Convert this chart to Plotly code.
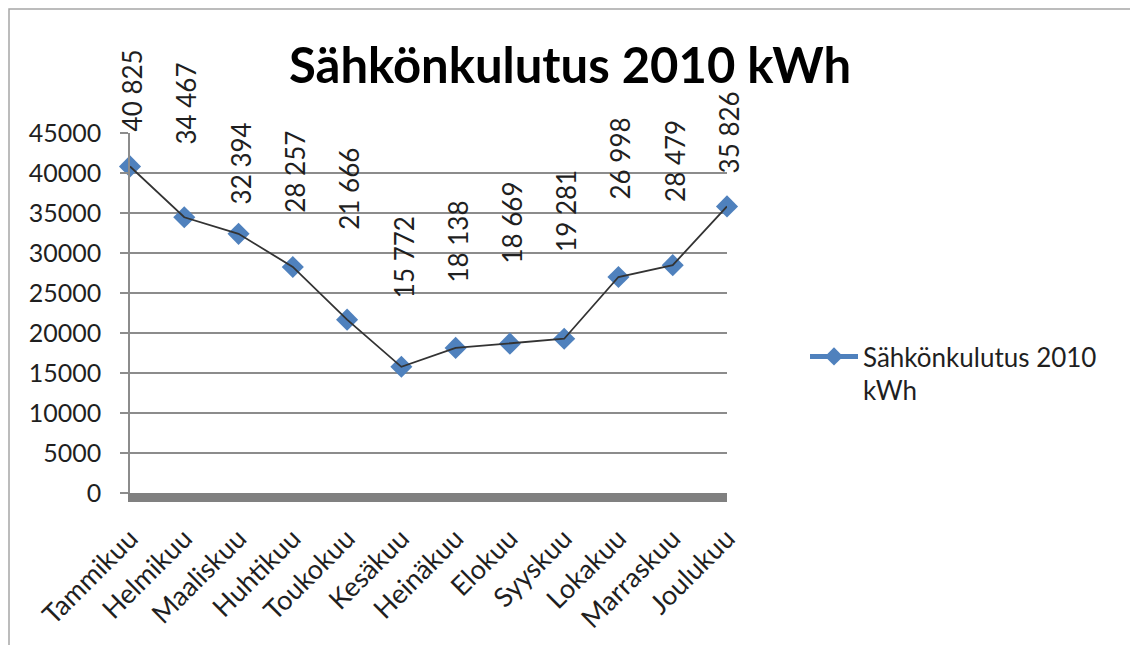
import plotly.graph_objects as go

# ---- data ----
months = ["Tammikuu", "Helmikuu", "Maaliskuu", "Huhtikuu", "Toukokuu", "Kesäkuu",
          "Heinäkuu", "Elokuu", "Syyskuu", "Lokakuu", "Marraskuu", "Joulukuu"]
consumption = [40825, 34467, 32394, 28257, 21666, 15772,
               18138, 18669, 19281, 26998, 28479, 35826]
value_labels = ["40 825", "34 467", "32 394", "28 257", "21 666", "15 772",
                "18 138", "18 669", "19 281", "26 998", "28 479", "35 826"]
series_name = "Sähkönkulutus 2010 kWh"
title_text = "Sähkönkulutus 2010 kWh"

# ---- style ----
label_offsets_px = [76, 114, 70, 95, 131, 110, 106, 121, 128, 119, 104, 74]
FONT = "Lato"
TXT = "#1f1f1f"
GRID = "#8c8c8c"
BLUE = "#4F81BD"
PAGE_OFF = 8                      # default body margin of the html page
W, H = 1138 - PAGE_OFF, 645 - PAGE_OFF
# plot area in page pixels
PL, PR, PT, PB = 130, 727, 133, 493
L = PL - PAGE_OFF
T = PT - PAGE_OFF
R = W - (PR - PAGE_OFF)
B = H - (PB - PAGE_OFF)
PW, PH = PR - PL, PB - PT

def px_to_paper_x(px):
    return (px - PL) / PW

def px_to_paper_y(py):
    return (PB - py) / PH

fig = go.Figure()

# markers (drawn first so the line sits on top of them)
fig.add_trace(go.Scatter(
    x=months, y=consumption, mode="markers",
    marker=dict(symbol="diamond", size=17, color=BLUE, line=dict(width=0)),
    showlegend=False, cliponaxis=False, hoverinfo="skip"))
# connecting line
fig.add_trace(go.Scatter(
    x=months, y=consumption, mode="lines",
    line=dict(color="#333333", width=1.8),
    showlegend=False, cliponaxis=False))
# legend entry
fig.add_trace(go.Scatter(
    x=[None], y=[None], mode="lines+markers",
    name=series_name.replace(" kWh", "<br>kWh"),
    line=dict(color=BLUE, width=5),
    marker=dict(symbol="diamond", size=14, color=BLUE)))

# vertical data labels
for m, v, lab, off in zip(months, consumption, value_labels, label_offsets_px):
    fig.add_annotation(x=m, y=v, text=lab, textangle=-90, showarrow=False,
                       xanchor="center", yanchor="middle", yshift=off, xshift=2,
                       font=dict(family=FONT, size=26, color=TXT))

# outer chart border
fig.add_shape(type="rect", xref="paper", yref="paper",
              x0=px_to_paper_x(9), x1=px_to_paper_x(1131),
              y0=px_to_paper_y(660), y1=px_to_paper_y(9),
              line=dict(color="#a6a6a6", width=1.5), fillcolor="rgba(0,0,0,0)",
              layer="below")

fig.update_layout(
    width=W, height=H, autosize=False,
    margin=dict(l=L, r=R, t=T, b=B, pad=0),
    paper_bgcolor="white", plot_bgcolor="white",
    font=dict(family=FONT, color=TXT, size=26),
    title=dict(text=title_text, xref="container", yref="container",
               x=(570 - PAGE_OFF) / W, y=1 - (66 - PAGE_OFF) / H,
               xanchor="center", yanchor="middle",
               font=dict(family=FONT, size=49, color="#000000", weight="bold")),
    showlegend=True,
    legend=dict(x=px_to_paper_x(805), y=px_to_paper_y(333), xanchor="left", yanchor="top",
                valign="top", font=dict(family=FONT, size=26, color=TXT),
                bgcolor="rgba(0,0,0,0)", itemwidth=48),
    xaxis=dict(type="category", range=[0, len(months) - 1],
               showgrid=False, zeroline=False,
               showline=True, linecolor="#808080", linewidth=9,
               ticks="", tickangle=-45, ticklabelstandoff=10,
               tickfont=dict(family=FONT, size=27, color=TXT)),
    yaxis=dict(range=[0, 45000], dtick=5000, tickformat="d",
               showgrid=True, gridcolor=GRID, gridwidth=1.5,
               zeroline=False, showline=True, linecolor=GRID, linewidth=1.5,
               ticks="outside", ticklen=8, tickcolor=GRID, tickwidth=1.5,
               ticklabelstandoff=14,
               tickfont=dict(family=FONT, size=25, color=TXT)),
)

fig.write_html("out.html")
